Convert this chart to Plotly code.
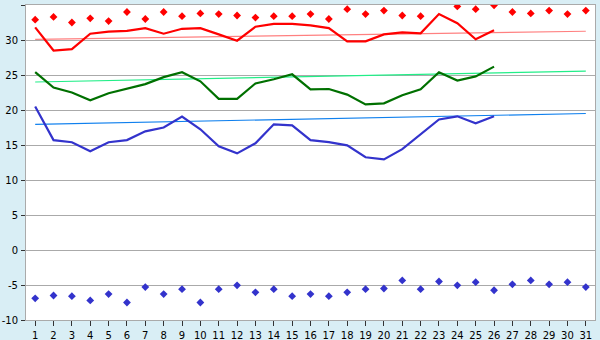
import plotly.graph_objects as go

days = list(range(1, 32))
obs_days = list(range(1, 27))

record_max = [32.9, 33.3, 32.5, 33.1, 32.7, 34.0, 33.0, 34.0, 33.4, 33.8,
              33.7, 33.5, 33.2, 33.4, 33.4, 33.7, 33.0, 34.4, 33.7, 34.2,
              33.5, 33.4, None, 34.8, 34.4, 34.95, 34.0, 33.8, 34.2, 33.7, 34.2]
record_min = [-6.9, -6.5, -6.6, -7.2, -6.3, -7.5, -5.3, -6.3, -5.6, -7.5,
              -5.6, -5.05, -6.05, -5.6, -6.6, -6.3, -6.6, -6.05, -5.6, -5.5,
              -4.35, -5.6, -4.5, -5.05, -4.6, -5.75, -4.9, -4.35, -4.9, -4.6, -5.3]

tmax = [31.8, 28.5, 28.7, 30.9, 31.2, 31.3, 31.7, 30.9, 31.6, 31.7,
        30.8, 29.9, 31.9, 32.3, 32.3, 32.1, 31.7, 29.8, 29.8, 30.8,
        31.1, 30.95, 33.7, 32.4, 30.1, 31.4]
tmean = [25.4, 23.2, 22.5, 21.4, 22.4, 23.1, 23.7, 24.7, 25.4, 24.1,
         21.6, 21.6, 23.8, 24.4, 25.1, 22.95, 23.0, 22.2, 20.8, 20.95,
         22.1, 22.95, 25.4, 24.2, 24.8, 26.2]
tmin = [20.5, 15.7, 15.4, 14.1, 15.4, 15.7, 16.95, 17.5, 19.05, 17.25,
        14.8, 13.8, 15.25, 17.95, 17.8, 15.7, 15.4, 14.95, 13.25, 12.95,
        14.4, 16.5, 18.65, 19.1, 18.1, 19.1]

normal_days = [1, 31]
normal_max = [30.1, 31.25]
normal_mean = [24.0, 25.55]
normal_min = [17.95, 19.5]

y_ticks = [-10, -5, 0, 5, 10, 15, 20, 25, 30, 35]

fig = go.Figure()

fig.add_trace(go.Scatter(x=normal_days, y=normal_max, mode="lines",
                         line=dict(color="#ff8080", width=1.2)))
fig.add_trace(go.Scatter(x=normal_days, y=normal_mean, mode="lines",
                         line=dict(color="#22ee88", width=1.2)))
fig.add_trace(go.Scatter(x=normal_days, y=normal_min, mode="lines",
                         line=dict(color="#1080ee", width=1.2)))

fig.add_trace(go.Scatter(x=obs_days, y=tmax, mode="lines",
                         line=dict(color="#ff0000", width=2.2)))
fig.add_trace(go.Scatter(x=obs_days, y=tmean, mode="lines",
                         line=dict(color="#007000", width=2.2)))
fig.add_trace(go.Scatter(x=obs_days, y=tmin, mode="lines",
                         line=dict(color="#3333cc", width=2.2)))

fig.add_trace(go.Scatter(x=days, y=record_max, mode="markers",
                         marker=dict(symbol="diamond", size=6, color="#ff0000")))
fig.add_trace(go.Scatter(x=days, y=record_min, mode="markers",
                         marker=dict(symbol="diamond", size=6, color="#3333cc")))

fig.update_layout(
    width=600, height=340,
    margin=dict(l=26, r=5, t=5, b=20),
    paper_bgcolor="#d9eef5",
    plot_bgcolor="#ffffff",
    showlegend=False,
    hovermode=False,
    font=dict(family="DejaVu Sans", size=10, color="#000000"),
)
fig.update_xaxes(
    range=[0.5, 31.5], tickvals=days, ticktext=[str(d) for d in days],
    showgrid=False, zeroline=False, automargin=False,
    showline=True, linecolor="#aaaaaa", linewidth=1, mirror=True,
    ticks="outside", ticklen=5, tickcolor="#333333", ticklabelstandoff=1,
)
fig.update_yaxes(
    range=[-10, 35], tickvals=y_ticks, ticktext=[str(v) for v in y_ticks],
    showgrid=True, gridcolor="#aaaaaa", gridwidth=1, zeroline=False, automargin=False,
    showline=True, linecolor="#aaaaaa", linewidth=1, mirror=True,
    ticks="outside", ticklen=4, tickcolor="#333333", ticklabelstandoff=1,
)

fig.write_html("out.html", config={"displayModeBar": False, "staticPlot": True},
               post_script="document.body.style.margin='0';")
